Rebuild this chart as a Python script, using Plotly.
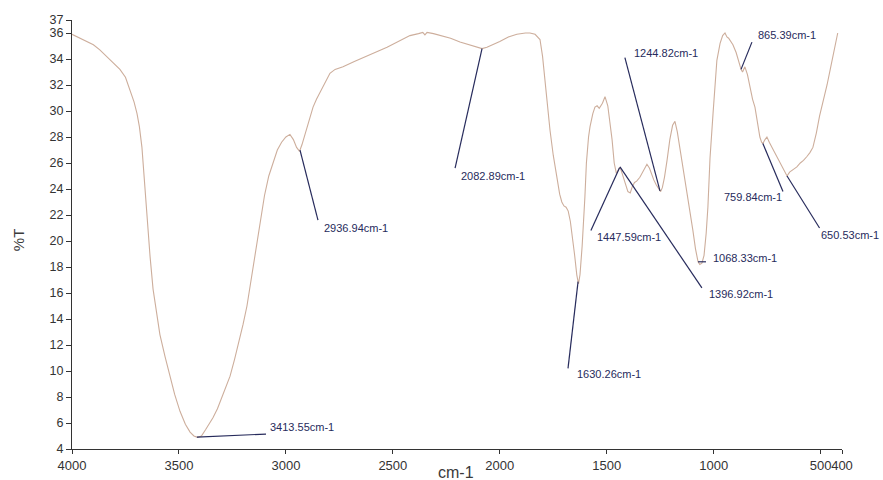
import numpy as np
import plotly.graph_objects as go

# ---- spectrum data (wavenumber cm-1, %T) ----
wavenumber = [4000, 3950, 3900, 3870, 3822, 3776, 3750, 3729, 3710, 3696, 3685, 3673, 3659, 3645,
              3635, 3621, 3605, 3589, 3565, 3542, 3520, 3495, 3470, 3448, 3430, 3413, 3395, 3375,
              3360, 3341, 3320, 3300, 3280, 3261, 3240, 3220, 3200, 3182, 3160, 3140, 3121, 3100,
              3080, 3060, 3040, 3020, 3000, 2981, 2965, 2950, 2943, 2936, 2925, 2910, 2901, 2887,
              2873, 2857, 2841, 2820, 2794, 2770, 2733, 2680, 2621, 2570, 2527, 2470, 2420, 2380,
              2360, 2350, 2340, 2310, 2280, 2230, 2186, 2130, 2100, 2083, 2060, 2030, 2000, 1960,
              1920, 1880, 1859, 1835, 1812, 1800, 1790, 1780, 1765, 1750, 1735, 1720, 1710, 1700,
              1690, 1680, 1670, 1660, 1650, 1640, 1632, 1625, 1615, 1602, 1595, 1585, 1578, 1565,
              1555, 1545, 1535, 1520, 1508, 1495, 1485, 1475, 1465, 1455, 1445, 1438, 1428, 1415,
              1401, 1390, 1380, 1370, 1360, 1345, 1330, 1312, 1300, 1290, 1280, 1268, 1258, 1248,
              1240, 1230, 1218, 1205, 1192, 1181, 1170, 1160, 1150, 1140, 1125, 1110, 1097, 1085,
              1073, 1065, 1055, 1045, 1035, 1027, 1017, 1003, 995, 985, 970, 958, 947, 938, 930,
              920, 910, 895, 880, 872, 865, 854, 842, 830, 818, 807, 795, 784, 776, 770, 760, 751,
              740, 727, 710, 690, 675, 665, 657, 645, 635, 620, 611, 595, 580, 564, 550, 536, 520,
              505, 489, 470, 455, 440, 420]
transmittance = [35.9, 35.5, 35.1, 34.7, 33.9, 33.2, 32.6, 31.6, 30.7, 29.8, 28.8, 27.2, 24.2, 20.6,
                 18.8, 16.3, 14.4, 12.8, 11.1, 9.6, 8.2, 6.9, 5.9, 5.3, 5.0, 4.9, 5.0, 5.5,
                 5.9, 6.4, 7.1, 7.9, 8.7, 9.6, 10.9, 12.2, 13.6, 15.0, 17.3, 19.6, 21.6, 23.5,
                 25.0, 26.1, 27.0, 27.6, 28.0, 28.2, 27.8, 27.2, 27.0, 26.9, 27.4, 28.3, 28.8, 29.6,
                 30.3, 30.9, 31.4, 32.1, 32.9, 33.2, 33.4, 33.8, 34.2, 34.6, 34.9, 35.4, 35.8, 35.95,
                 36.05, 35.85, 36.05, 35.95, 35.8, 35.6, 35.3, 35.0, 34.85, 34.8, 34.9, 35.1, 35.35, 35.7,
                 35.9, 36.0, 36.0, 35.9, 35.5, 34.2, 32.6, 30.8, 28.5, 26.6, 25.0, 23.6, 23.0, 22.7,
                 22.6, 22.3, 21.5, 20.3, 18.9, 17.4, 16.7, 17.4, 19.6, 23.4, 26.0, 28.0, 28.8, 29.8,
                 30.3, 30.4, 30.2, 30.6, 31.1, 30.4, 29.2, 27.8, 26.0, 25.2, 25.5, 25.7, 25.2, 24.6,
                 23.8, 23.7, 24.2, 24.5, 24.6, 24.9, 25.4, 25.9, 25.6, 25.1, 24.7, 24.3, 24.0, 23.8,
                 24.1, 24.9, 26.2, 27.8, 28.9, 29.2, 28.4, 27.4, 26.4, 25.4, 23.9, 22.2, 20.8, 19.4,
                 18.4, 18.2, 18.3, 18.9, 20.6, 22.6, 26.4, 29.8, 31.6, 33.9, 35.2, 35.8, 36.0, 35.7,
                 35.6, 35.3, 35.1, 34.5, 33.6, 33.2, 33.0, 33.4, 32.8, 31.8, 30.9, 30.3, 29.2, 28.0,
                 27.6, 27.5, 27.8, 28.0, 27.6, 27.2, 26.6, 26.0, 25.6, 25.3, 25.0, 25.3, 25.4, 25.6,
                 25.7, 26.0, 26.2, 26.5, 26.8, 27.2, 28.3, 29.6, 30.6, 32.0, 33.2, 34.4, 36.0]

# ---- peak labels ----
peak_labels = ["3413.55cm-1", "2936.94cm-1", "2082.89cm-1", "1630.26cm-1", "1447.59cm-1",
               "1396.92cm-1", "1244.82cm-1", "1068.33cm-1", "865.39cm-1", "759.84cm-1", "650.53cm-1"]
leader_start_wn = [3416, 2934, 2083, 1634, 1440, 1438, 1251, 1073, 872, 770, 657]
leader_end_wn = [3093, 2850, 2209, 1681, 1574, 1055, 1415, 1036, 821, 676, 505]
leader_end_T = [5.15, 21.6, 25.6, 10.2, 20.8, 16.4, 34.1, 18.4, 35.3, 23.8, 21.0]
label_wn = [3083, 2829, 2193, 1650, 1554, 1033, 1384, 1012, 800, 963, 507]
label_T = [5.7, 21.0, 25.0, 9.8, 20.3, 15.9, 34.5, 18.7, 35.85, 23.4, 20.5]

# ---- axis ticks ----
x_ticks = [4000, 3500, 3000, 2500, 2000, 1500, 1000, 500, 400]
y_ticks = [4, 6, 8, 10, 12, 14, 16, 18, 20, 22, 24, 26, 28, 30, 32, 34, 36, 37]

curve_color = "#cdae9c"
ann_color = "#272b5c"
font_family = "Liberation Sans, Arial, sans-serif"

fig = go.Figure()
fig.add_trace(go.Scatter(x=wavenumber, y=transmittance, mode="lines",
                         line=dict(color=curve_color, width=1.1), hoverinfo="skip",
                         showlegend=False))

wn_sorted = np.array(wavenumber[::-1], dtype=float)
t_sorted = np.array(transmittance[::-1], dtype=float)

shapes = []
annotations = []
for lab, sw, ew, et, lw, lt in zip(peak_labels, leader_start_wn, leader_end_wn, leader_end_T,
                                   label_wn, label_T):
    st = float(np.interp(sw, wn_sorted, t_sorted))
    shapes.append(dict(type="line", xref="x", yref="y", x0=sw, y0=st, x1=ew, y1=et,
                       line=dict(color=ann_color, width=1.2)))
    annotations.append(dict(x=lw, y=lt, xref="x", yref="y", text=lab, showarrow=False,
                            xanchor="left", yanchor="middle",
                            font=dict(family=font_family, size=11, color=ann_color)))

annotations.append(dict(x=0.499, y=-0.054, xref="paper", yref="paper", text="cm-1",
                        showarrow=False, xanchor="center", yanchor="middle",
                        font=dict(family=font_family, size=16, color="#3a3a3a")))
annotations.append(dict(x=-0.070, y=0.487, xref="paper", yref="paper", text="%T",
                        showarrow=False, xanchor="center", yanchor="middle", textangle=-90,
                        font=dict(family=font_family, size=15, color="#3a3a3a")))

fig.update_layout(
    width=883, height=480,
    margin=dict(l=72, r=41, t=20, b=31, autoexpand=False),
    paper_bgcolor="white", plot_bgcolor="white",
    shapes=shapes, annotations=annotations,
    font=dict(family=font_family, size=12.5, color="#333333"),
    xaxis=dict(range=[4000, 400], tickvals=x_ticks, ticktext=[str(v) for v in x_ticks],
               tickangle=0, automargin=False,
               showgrid=False, zeroline=False, showline=True, linecolor="#333333", linewidth=1,
               ticks="outside", ticklen=4, tickcolor="#333333",
               tickfont=dict(family=font_family, size=13, color="#333333")),
    yaxis=dict(range=[4, 37], tickvals=y_ticks, ticktext=[str(v) for v in y_ticks],
               automargin=False,
               showgrid=False, zeroline=False, showline=True, linecolor="#333333", linewidth=1,
               ticks="outside", ticklen=5, tickcolor="#333333",
               tickfont=dict(family=font_family, size=12.5, color="#333333")),
)

fig.write_html("out.html", config={"displayModeBar": False},
               post_script="document.body.style.margin='0';document.body.style.overflow='hidden';")
